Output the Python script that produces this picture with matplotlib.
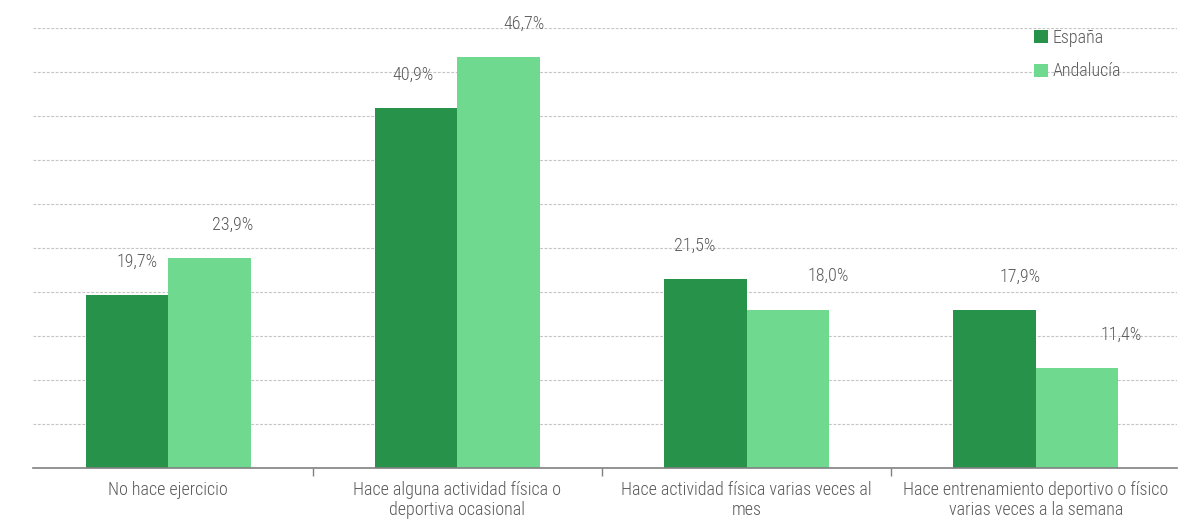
import numpy as np
import matplotlib.pyplot as plt
from matplotlib import font_manager
from matplotlib.ticker import FixedLocator

categories = [
    "No hace ejercicio",
    "Hace alguna actividad física o\ndeportiva ocasional",
    "Hace actividad física varias veces al\nmes",
    "Hace entrenamiento deportivo o físico\nvarias veces a la semana",
]
espana = [19.7, 40.9, 21.5, 17.9]
andalucia = [23.9, 46.7, 18.0, 11.4]
series_names = ["España", "Andalucía"]

# small horizontal nudges (points) for the value labels, as in the original
label_dx = [[7, -2, -8, 18], [17, 18, 29, 32]]

dark = "#279249"
light = "#6fd98f"
text_col = "#5a5a5a"

# pick a narrow font if one is around
installed = {f.name for f in font_manager.fontManager.ttflist}
wanted = ["Roboto Condensed", "Liberation Sans Narrow", "Open Sans Condensed",
          "DejaVu Sans Condensed", "Roboto"]
narrow = [n for n in wanted if n in installed]
plt.rcParams["font.family"] = narrow[:1] + ["DejaVu Sans"]
stretch = "condensed"
weight = "light"
fs = 13

fig = plt.figure(figsize=(11.95, 5.22), dpi=100)
ax = fig.add_axes([0.0276, 0.1034, 0.9574, 0.8430])

x = np.arange(len(categories))
w = 0.285
bars_es = ax.bar(x - w / 2, espana, w, color=dark, label=series_names[0])
bars_an = ax.bar(x + w / 2, andalucia, w, color=light, label=series_names[1])

for s, bars in enumerate([bars_es, bars_an]):
    for i, b in enumerate(bars):
        val = b.get_height()
        ax.annotate(f"{val:.1f}%".replace(".", ","),
                    (b.get_x() + b.get_width() / 2, val),
                    xytext=(label_dx[s][i], 24), textcoords="offset points",
                    ha="center", va="center", fontsize=fs, color=text_col,
                    fontstretch=stretch, fontweight=weight)

ax.set_xlim(-0.467, 3.488)
ax.set_ylim(0, 50)
ax.set_yticks(np.arange(5, 51, 5))
ax.yaxis.grid(True, linestyle=(0, (2.5, 1.5)), color="#c4c4c4", linewidth=0.8)
ax.set_axisbelow(True)
ax.tick_params(axis="y", left=False, labelleft=False)

ax.set_xticks(x)
ax.set_xticklabels(categories, fontsize=fs, color=text_col, linespacing=1.2,
                   fontstretch=stretch, fontweight=weight)
ax.tick_params(axis="x", length=0, pad=9)
ax.xaxis.set_minor_locator(FixedLocator(np.arange(0.5, len(categories) - 1, 1.0)))
ax.tick_params(axis="x", which="minor", length=6, color="#808080", width=1)

for side in ["top", "right", "left"]:
    ax.spines[side].set_visible(False)
ax.spines["bottom"].set_color("#808080")
ax.spines["bottom"].set_linewidth(1.2)

leg = ax.legend(loc="upper left", bbox_to_anchor=(0.8595, 0.958),
                bbox_transform=fig.transFigure, frameon=False, fontsize=fs,
                labelcolor=text_col, handlelength=0.75, handleheight=0.75,
                handletextpad=0.25, labelspacing=0.85, borderaxespad=0)
for t in leg.get_texts():
    t.set_fontstretch(stretch)
    t.set_fontweight(weight)

fig.savefig("out.png", dpi=100)
